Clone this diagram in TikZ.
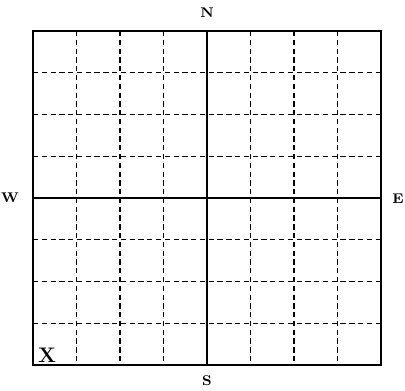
\documentclass[tikz,border=0pt]{standalone}
\usepackage{tikz}
\usetikzlibrary{positioning,calc}
\definecolor{ink}{HTML}{000000}

\begin{document}
\begin{tikzpicture}[x=0.02cm,y=-0.02cm]
        % Page frame (keeps the margins)
        \useasboundingbox (0,0) rectangle (405,390);
        % Dashed grid
        \foreach \x in {76.5,120,163.5,250.5,294,337.5}
          \draw[ink, dash pattern=on 3pt off 2pt, thick] (\x,31) -- (\x,365);
        \foreach \y in {72.75,114.5,156.25,239.75,281.5,323.25}
          \draw[ink, dash pattern=on 3pt off 2pt, thick] (33,\y) -- (381,\y);
        % Axes through the middle
        \draw[ink, line width=1.2pt] (207,31) -- (207,365);
        \draw[ink, line width=1.2pt] (33,198) -- (381,198);
        % Outer square
        \draw[ink, line width=1.2pt] (33,31) rectangle (381,365);
        % Compass points
        \node[font=\footnotesize\bfseries] (north) at (207,13) {N};
        \node[font=\footnotesize\bfseries] (south) at (207,381) {S};
        \node[font=\footnotesize\bfseries] (west) at (10,198) {W};
        \node[font=\footnotesize\bfseries] (east) at (398,199) {E};
        % Start mark
        \node[font=\large\bfseries] (start) at (47,355) {X};
      \end{tikzpicture}
\end{document}
